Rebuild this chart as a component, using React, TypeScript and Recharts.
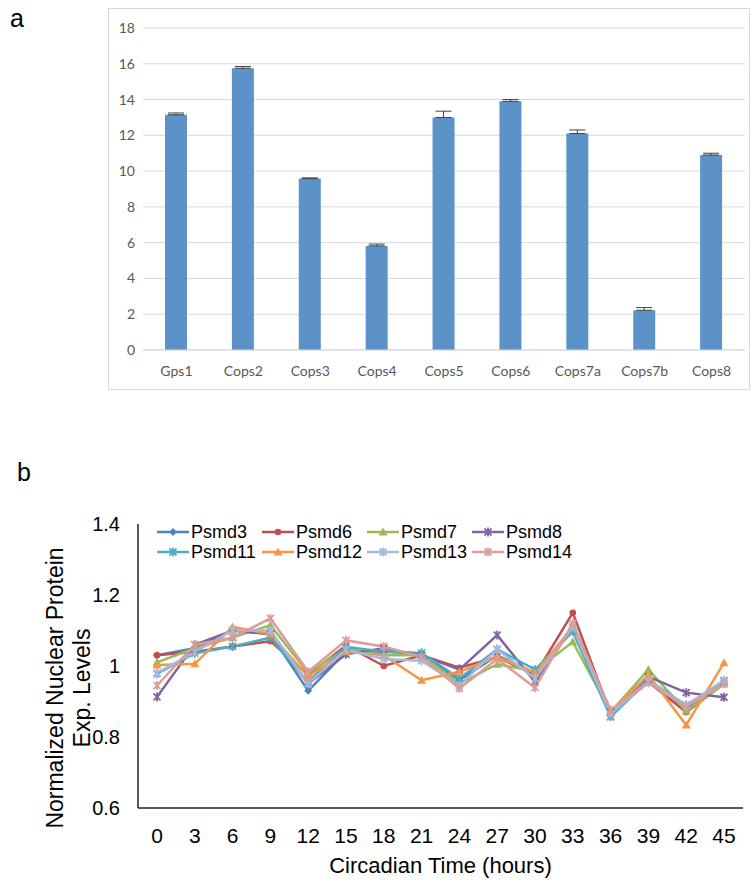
import React from "react";
import { BarChart, Bar, XAxis, YAxis, CartesianGrid, ErrorBar, LineChart, Line, Legend } from "recharts";

// panel a: COP9 signalosome subunits
const genes = ["Gps1", "Cops2", "Cops3", "Cops4", "Cops5", "Cops6", "Cops7a", "Cops7b", "Cops8"];
const expression = [13.15, 15.75, 9.58, 5.82, 13.0, 13.9, 12.1, 2.22, 10.9];
const expressionErr = [0.1, 0.1, 0.04, 0.1, 0.35, 0.1, 0.2, 0.15, 0.1];
const barTicks = [0, 2, 4, 6, 8, 10, 12, 14, 16, 18];

// panel b: proteasome subunits over circadian time
const hours = [0, 3, 6, 9, 12, 15, 18, 21, 24, 27, 30, 33, 36, 39, 42, 45];
const psmd3 = [1.03, 1.05, 1.1, 1.09, 0.93, 1.04, 1.04, 1.035, 0.96, 1.03, 0.98, 1.105, 0.86, 0.96, 0.88, 0.953];
const psmd6 = [1.03, 1.04, 1.055, 1.07, 0.975, 1.058, 1.0, 1.03, 0.995, 1.025, 0.975, 1.15, 0.865, 0.955, 0.87, 0.95];
const psmd7 = [1.01, 1.05, 1.08, 1.115, 0.98, 1.05, 1.03, 1.03, 0.95, 1.005, 0.985, 1.068, 0.87, 0.99, 0.873, 0.95];
const psmd8 = [0.913, 1.06, 1.1, 1.09, 0.95, 1.033, 1.05, 1.03, 0.99, 1.087, 0.955, 1.11, 0.87, 0.97, 0.925, 0.912];
const psmd11 = [0.978, 1.036, 1.055, 1.08, 0.955, 1.054, 1.04, 1.037, 0.965, 1.047, 0.99, 1.097, 0.857, 0.96, 0.89, 0.957];
const psmd12 = [1.003, 1.006, 1.11, 1.09, 0.97, 1.04, 1.03, 0.96, 0.984, 1.026, 0.98, 1.11, 0.87, 0.975, 0.834, 1.009];
const psmd13 = [0.98, 1.04, 1.1, 1.1, 0.95, 1.046, 1.02, 1.015, 0.945, 1.047, 0.965, 1.11, 0.865, 0.957, 0.89, 0.96];
const psmd14 = [0.945, 1.06, 1.08, 1.134, 0.984, 1.072, 1.055, 1.025, 0.937, 1.02, 0.939, 1.12, 0.876, 0.953, 0.885, 0.95];
const levelTicks = [0.6, 0.8, 1, 1.2, 1.4];

const seriesNames = ["Psmd3", "Psmd6", "Psmd7", "Psmd8", "Psmd11", "Psmd12", "Psmd13", "Psmd14"];
const seriesValues = [psmd3, psmd6, psmd7, psmd8, psmd11, psmd12, psmd13, psmd14];
const seriesColors = ["#4f81bd", "#c0504d", "#9bbb59", "#8064a2", "#4bacc6", "#f79646", "#a5b8e0", "#dc9c99"];
const seriesShapes = ["diamond", "circle", "triangle", "star", "star", "triangle", "star", "star"];

const barData = genes.map((g, i) => ({ gene: g, value: expression[i], err: [0, expressionErr[i]] }));

const lineData = hours.map((h, i) => {
  const row: Record<string, number | string> = { hour: String(h) };
  seriesNames.forEach((n, s) => (row[n] = seriesValues[s][i]));
  return row;
});

function Marker({ shape, x, y, color }: { shape: string; x: number; y: number; color: string }) {
  if (shape === "diamond") return <path d={`M${x},${y - 4}L${x + 4},${y}L${x},${y + 4}L${x - 4},${y}Z`} fill={color} />;
  if (shape === "circle") return <circle cx={x} cy={y} r={3.3} fill={color} />;
  if (shape === "triangle")
    return <path d={`M${x},${y - 4.5}L${x + 4.5},${y + 3.5}L${x - 4.5},${y + 3.5}Z`} fill={color} />;
  return (
    <path
      d={`M${x - 3.5},${y - 3.5}L${x + 3.5},${y + 3.5}M${x - 3.5},${y + 3.5}L${x + 3.5},${y - 3.5}M${x},${y - 4.5}L${x},${y + 4.5}`}
      stroke={color}
      strokeWidth={1.8}
      fill="none"
    />
  );
}

const arial = '"Liberation Sans", Arial, sans-serif';

const renderLegend = () => (
  <div style={{ display: "grid", gridTemplateColumns: "repeat(4, 105px)", fontFamily: arial, fontSize: 18, color: "#000" }}>
    {seriesNames.map((n, i) => (
      <div key={n} style={{ display: "flex", alignItems: "center", height: 20, whiteSpace: "nowrap" }}>
        <svg width={32} height={12} style={{ display: "block" }}>
          <line x1={0} y1={6} x2={32} y2={6} stroke={seriesColors[i]} strokeWidth={2.5} />
          <Marker shape={seriesShapes[i]} x={16} y={6} color={seriesColors[i]} />
        </svg>
        <span style={{ marginLeft: 2 }}>{n}</span>
      </div>
    ))}
  </div>
);

const renderYLabel = () => (
  <g fontFamily={arial} fontSize={23} fill="#000">
    <text x={55} y={188} transform="rotate(-90, 55, 188)" textAnchor="middle" dominantBaseline="central">
      Normalized Nuclear Protein
    </text>
    <text x={82} y={188} transform="rotate(-90, 82, 188)" textAnchor="middle" dominantBaseline="central">
      Exp. Levels
    </text>
  </g>
);

export default function App() {
  return (
    <div style={{ position: "absolute", left: 0, top: 0, width: 752, height: 885, background: "#fff", fontFamily: arial }}>
      <div style={{ position: "absolute", left: 10, top: 4, fontSize: 25 }}>a</div>
      <div
        style={{
          position: "absolute",
          left: 108,
          top: 8,
          width: 642,
          height: 382,
          border: "1px solid #d9d9d9",
          boxSizing: "border-box",
        }}
      >
        <BarChart width={640} height={380} data={barData} margin={{ top: 19, right: 4, left: 0, bottom: 0 }} barSize={22}>
          <CartesianGrid vertical={false} stroke="#d9d9d9" />
          <XAxis
            dataKey="gene"
            height={39}
            tickLine={false}
            axisLine={{ stroke: "#d9d9d9" }}
            tickMargin={10}
            tick={{ fill: "#595959", fontSize: 14, fontFamily: "Lato" }}
          />
          <YAxis
            width={34}
            domain={[0, 18]}
            ticks={barTicks}
            tickLine={false}
            axisLine={false}
            tick={{ fill: "#595959", fontSize: 14, fontFamily: "Lato" }}
          />
          <Bar dataKey="value" fill="#5b93c9" isAnimationActive={false}>
            <ErrorBar dataKey="err" width={8} strokeWidth={1} stroke="#404040" direction="y" />
          </Bar>
        </BarChart>
      </div>

      <div style={{ position: "absolute", left: 17, top: 458, fontSize: 25 }}>b</div>
      <div style={{ position: "absolute", left: 0, top: 500 }}>
        <LineChart width={752} height={385} data={lineData} margin={{ top: 24, right: 9, left: 0, bottom: 0 }}>
          <XAxis
            dataKey="hour"
            height={77}
            padding={{ left: 19, right: 19 }}
            tickLine={false}
            axisLine={{ stroke: "#222", strokeWidth: 1.5 }}
            tickMargin={14}
            tick={{ fill: "#000", fontSize: 21, fontFamily: arial }}
            label={{ value: "Circadian Time (hours)", position: "insideBottom", offset: 12, fill: "#000", fontSize: 22, fontFamily: arial }}
          />
          <YAxis
            width={138}
            domain={[0.6, 1.4]}
            ticks={levelTicks}
            tickLine={false}
            tickMargin={12}
            axisLine={{ stroke: "#222", strokeWidth: 1.5 }}
            tick={{ fill: "#000", fontSize: 20, fontFamily: arial }}
            label={{ content: renderYLabel }}
          />
          <Legend
            layout="horizontal"
            verticalAlign="middle"
            align="center"
            content={renderLegend}
            wrapperStyle={{ left: 157, top: 22, width: 440 }}
          />
          {seriesNames.map((n, i) => (
            <Line
              key={n}
              dataKey={n}
              stroke={seriesColors[i]}
              strokeWidth={2.5}
              isAnimationActive={false}
              dot={(p: any) => (
                <Marker key={`${n}-${p.index}`} shape={seriesShapes[i]} x={p.cx} y={p.cy} color={seriesColors[i]} />
              )}
              activeDot={false}
            />
          ))}
        </LineChart>
      </div>
    </div>
  );
}
